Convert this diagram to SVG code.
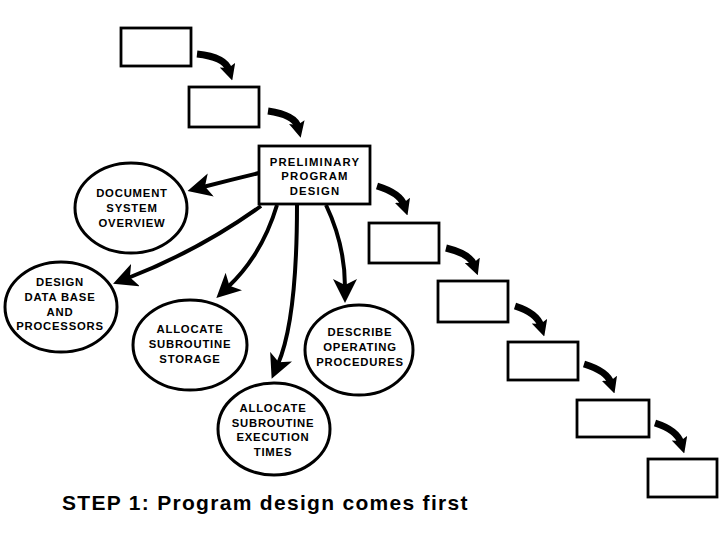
<svg xmlns="http://www.w3.org/2000/svg" width="720" height="540" viewBox="0 0 720 540">
<style>
.box{fill:#fff;stroke:#000;stroke-width:2.8}
.ell{fill:#fff;stroke:#000;stroke-width:3}
.lbl{font-family:"Liberation Sans",Arial,sans-serif;font-weight:bold;font-size:11.3px;letter-spacing:0.8px;text-anchor:middle;fill:#000}
.cas{fill:none;stroke:#000;stroke-width:7}
.rad{fill:none;stroke:#000;stroke-width:4}
.cap{font-family:"Liberation Sans",Arial,sans-serif;font-weight:bold;font-size:21px;letter-spacing:1.3px;fill:#000}
</style>
<defs>
<marker id="hc" viewBox="0 0 16 16" markerWidth="16" markerHeight="16" refX="5" refY="8" orient="auto" markerUnits="userSpaceOnUse">
<path d="M0,0 L16,8 L0,16 L3,8 z" fill="#000"/>
</marker>
<marker id="hr" viewBox="0 0 24 24" markerWidth="24" markerHeight="24" refX="8" refY="12" orient="auto" markerUnits="userSpaceOnUse">
<path d="M0,0 L24,12 L0,24 L6,12 z" fill="#000"/>
</marker>
</defs>
<g id="connectors">
<path class="cas" d="M197,54 Q225,57 229,70" marker-end="url(#hc)"/>
<path class="cas" d="M268,111 Q295,115 298,127" marker-end="url(#hc)"/>
<path class="cas" d="M377,186 Q400,193 404,205" marker-end="url(#hc)"/>
<path class="cas" d="M446,248 Q470,254 474,265" marker-end="url(#hc)"/>
<path class="cas" d="M515,306 Q537,313 541,326" marker-end="url(#hc)"/>
<path class="cas" d="M584,364 Q607,371 611,383" marker-end="url(#hc)"/>
<path class="cas" d="M655,423 Q677,430 681,443" marker-end="url(#hc)"/>
<path class="rad" d="M259,173 Q230,180 203,187" marker-end="url(#hr)"/>
<path class="rad" d="M261,206 Q200,250 128,278" marker-end="url(#hr)"/>
<path class="rad" d="M277,205 Q262,255 228,287" marker-end="url(#hr)"/>
<path class="rad" d="M297,205 Q297,320 278,364" marker-end="url(#hr)"/>
<path class="rad" d="M326,205 Q345,245 345,287" marker-end="url(#hr)"/>
</g>
<g id="box1"><rect class="box" x="121" y="28" width="70" height="38"/></g>
<g id="box2"><rect class="box" x="189" y="87" width="70" height="40"/></g>
<g id="ppd"><rect class="box" x="259" y="146" width="111" height="58"/>
<text class="lbl" x="315" y="166" style="letter-spacing:1.2px">PRELIMINARY</text>
<text class="lbl" x="315" y="180" style="letter-spacing:1.2px">PROGRAM</text>
<text class="lbl" x="315" y="195" style="letter-spacing:1.2px">DESIGN</text></g>
<g id="box3"><rect class="box" x="369" y="223" width="70" height="40"/></g>
<g id="box4"><rect class="box" x="438" y="281" width="70" height="41"/></g>
<g id="box5"><rect class="box" x="508" y="342" width="70" height="38"/></g>
<g id="box6"><rect class="box" x="577" y="400" width="72" height="37"/></g>
<g id="box7"><rect class="box" x="648" y="459" width="69" height="38"/></g>
<g id="dso"><ellipse class="ell" cx="131" cy="208" rx="56" ry="45"/>
<text class="lbl" x="132" y="197">DOCUMENT</text>
<text class="lbl" x="132" y="212">SYSTEM</text>
<text class="lbl" x="132" y="227">OVERVIEW</text></g>
<g id="ddb"><ellipse class="ell" cx="61" cy="307" rx="56" ry="45"/>
<text class="lbl" x="60" y="286">DESIGN</text>
<text class="lbl" x="60" y="301">DATA BASE</text>
<text class="lbl" x="60" y="316">AND</text>
<text class="lbl" x="60" y="330">PROCESSORS</text></g>
<g id="ass"><ellipse class="ell" cx="190" cy="345" rx="57" ry="45"/>
<text class="lbl" x="190" y="333">ALLOCATE</text>
<text class="lbl" x="190" y="348">SUBROUTINE</text>
<text class="lbl" x="190" y="363">STORAGE</text></g>
<g id="aset"><ellipse class="ell" cx="274" cy="429" rx="56" ry="46"/>
<text class="lbl" x="273" y="412">ALLOCATE</text>
<text class="lbl" x="273" y="427">SUBROUTINE</text>
<text class="lbl" x="273" y="441">EXECUTION</text>
<text class="lbl" x="273" y="456">TIMES</text></g>
<g id="dop"><ellipse class="ell" cx="359" cy="350" rx="54" ry="45"/>
<text class="lbl" x="360" y="336">DESCRIBE</text>
<text class="lbl" x="360" y="351">OPERATING</text>
<text class="lbl" x="360" y="366">PROCEDURES</text></g>
<text class="cap" x="62" y="510">STEP 1: Program design comes first</text>
</svg>
